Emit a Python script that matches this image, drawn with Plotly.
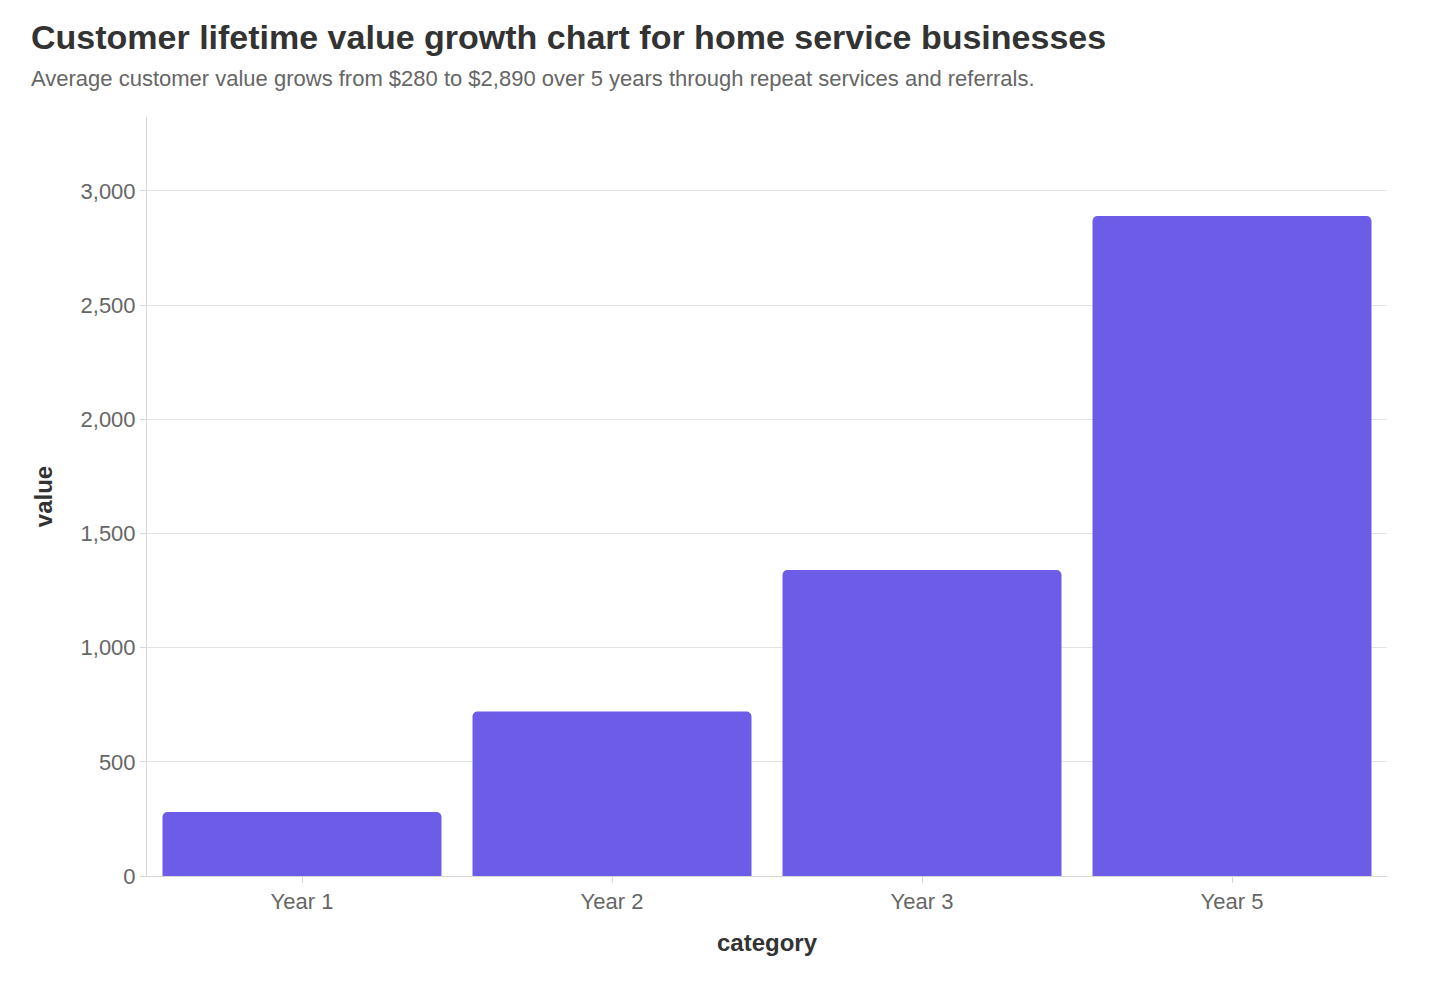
import plotly.graph_objects as go

# Data
categories = ["Year 1", "Year 2", "Year 3", "Year 5"]
values = [280, 720, 1340, 2890]

title_text = "Customer lifetime value growth chart for home service businesses"
subtitle_text = ("Average customer value grows from $280 to $2,890 over 5 years "
                 "through repeat services and referrals.")

bar_color = "#6c5ce7"
grid_color = "#e1e4e4"
axis_color = "#d5d8d8"
font_family = "Liberation Sans, Arial, sans-serif"

# page body adds an 8px offset, so margins are shifted to compensate
off = 8

fig = go.Figure(
    go.Bar(
        x=categories,
        y=values,
        marker=dict(color=bar_color, cornerradius=5, line=dict(width=0)),
    )
)

fig.update_layout(
    width=1436,
    height=984,
    paper_bgcolor="white",
    plot_bgcolor="white",
    font=dict(family=font_family, color="#666666", size=22),
    margin=dict(l=147 - off, r=49 + off, t=117 - off, b=108 + off),
    bargap=0.1,
    showlegend=False,
    title=dict(
        text="<b>" + title_text + "</b>",
        font=dict(size=34, color="#333333", family=font_family),
        xref="container", x=(31 - off) / 1436, xanchor="left",
        yref="container", y=1 - (37 - off) / 984, yanchor="middle",
    ),
    annotations=[
        dict(
            text=subtitle_text,
            xref="paper", yref="paper",
            x=(29 - 147) / 1240, y=1 + (117 - 78) / 759,
            xanchor="left", yanchor="middle",
            showarrow=False,
            font=dict(size=22, color="#666666", family=font_family),
        )
    ],
    xaxis=dict(
        title=dict(text="<b>category</b>", font=dict(size=24, color="#333333"), standoff=20),
        showline=True, linecolor=axis_color, linewidth=1,
        ticks="outside", ticklen=6, tickcolor=axis_color,
        showgrid=False,
    ),
    yaxis=dict(
        title=dict(text="<b>value</b>", font=dict(size=24, color="#333333"), standoff=21),
        range=[0, 3323.5],
        tickvals=[0, 500, 1000, 1500, 2000, 2500, 3000],
        tickformat=",",
        showline=True, linecolor=axis_color, linewidth=1,
        ticks="outside", ticklen=6, tickcolor=axis_color,
        showgrid=True, gridcolor=grid_color, gridwidth=1,
        zeroline=False,
    ),
)

fig.write_html("out.html")
